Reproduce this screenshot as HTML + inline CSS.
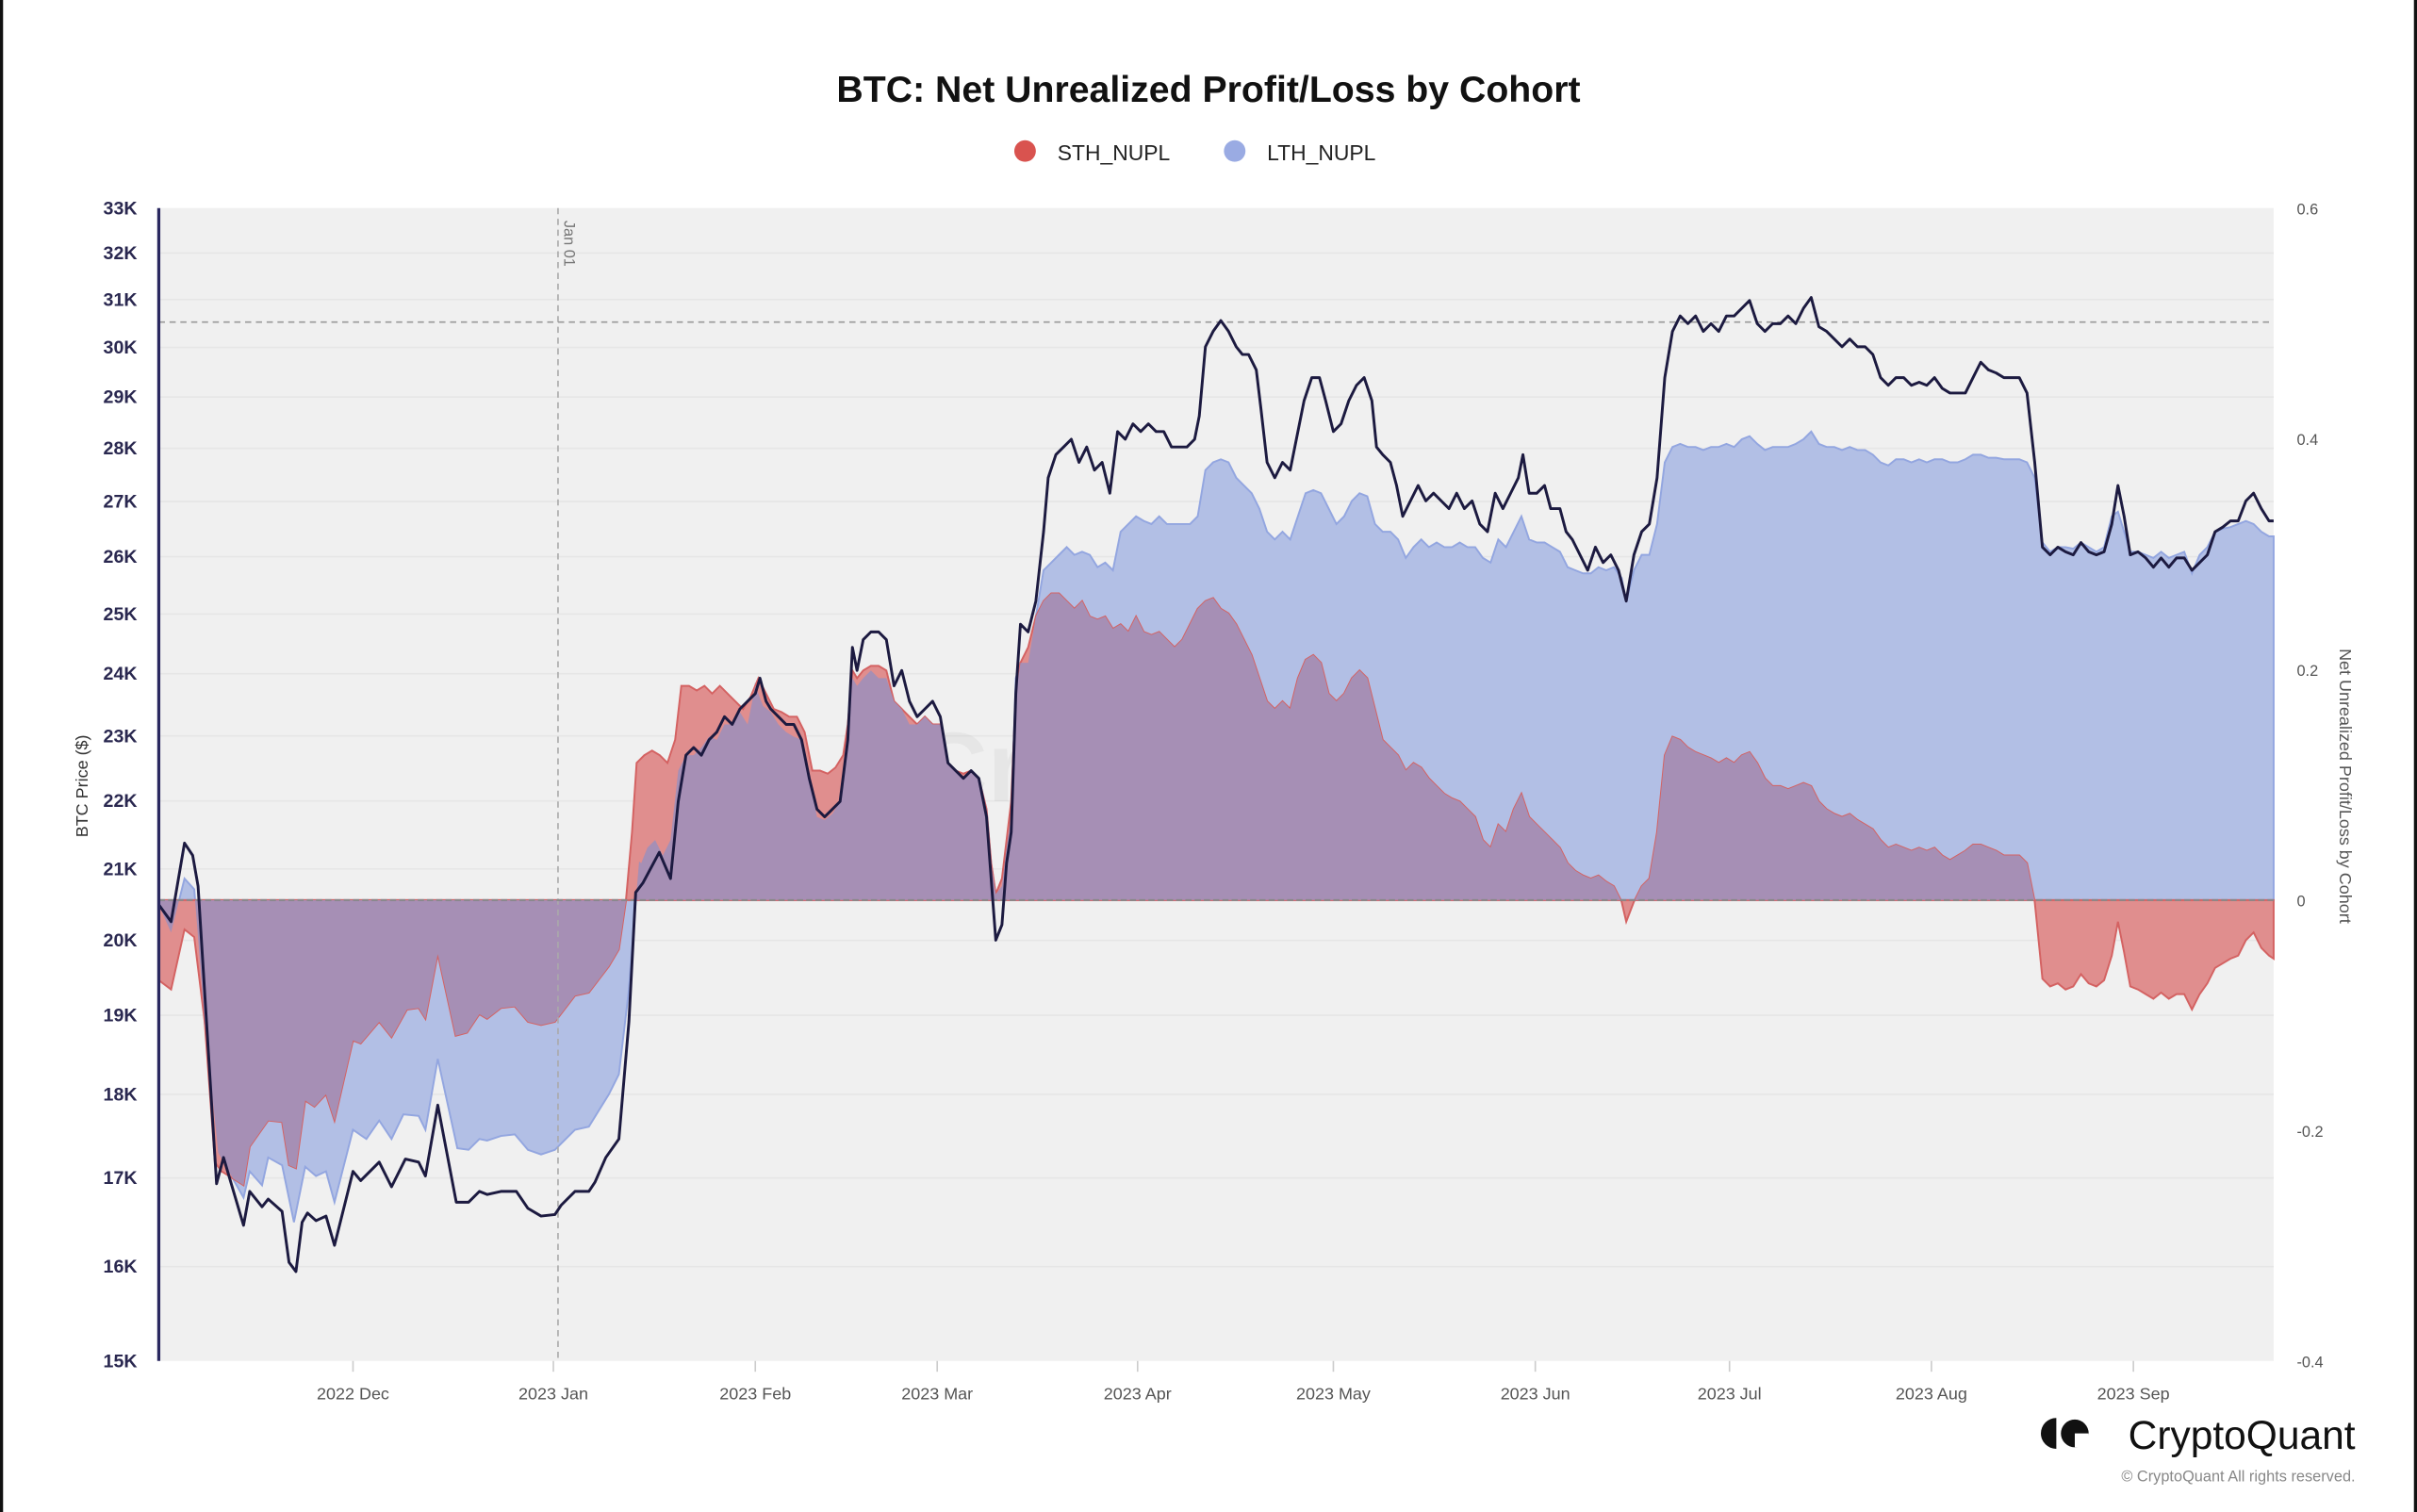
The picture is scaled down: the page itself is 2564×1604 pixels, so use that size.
<!DOCTYPE html>
<html><head><meta charset="utf-8">
<style>
html,body{margin:0;padding:0;background:#fff;}
body{width:2564px;height:1604px;overflow:hidden;position:relative;}
svg{position:absolute;left:0;top:0;}
text{font-family:"Liberation Sans",Arial,sans-serif;}
</style></head><body>
<svg id="s" width="2564" height="1604" viewBox="0 0 1568 981" preserveAspectRatio="none" xmlns="http://www.w3.org/2000/svg">
<rect x="0" y="0" width="1568" height="981" fill="#fff"/>
<rect x="0" y="0" width="2" height="981" fill="#111"/>
<rect x="1566" y="0" width="2" height="981" fill="#111"/>
<text x="784" y="66" text-anchor="middle" font-size="24" font-weight="bold" fill="#111">BTC: Net Unrealized Profit/Loss by Cohort</text>
<circle cx="665" cy="98" r="7" fill="#d9534f"/>
<text x="686" y="104" font-size="14" fill="#222">STH_NUPL</text>
<circle cx="801" cy="98" r="7" fill="#9aabe3"/>
<text x="822" y="104" font-size="14" fill="#222">LTH_NUPL</text>
<rect x="103" y="135" width="1372" height="748" fill="#f0f0f0"/>
<g id="grid" stroke="#e6e6e6" stroke-width="1"></g>
<g id="ylab" font-size="12" fill="#2a2850" text-anchor="end" font-weight="bold"></g>
<g id="rlab" font-size="10" fill="#555" text-anchor="start"></g>
<g id="xlab" font-size="11" fill="#555" text-anchor="middle"></g>
<text x="790" y="520" text-anchor="middle" font-size="64" fill="#000" fill-opacity="0.04" font-weight="bold">CryptoQuant</text>
<defs><clipPath id="cb"><path id="cbp"/></clipPath></defs>
<path id="blue" fill="#b2bfe5" stroke="#93a6e0" stroke-width="1.2"/>
<path id="red" fill="#e08e8e" stroke="#d46262" stroke-width="1.2"/>
<path id="purp" fill="#a68fb5" clip-path="url(#cb)"/>
<line x1="362" y1="135" x2="362" y2="883" stroke="#aaa" stroke-dasharray="4,3" stroke-width="1"/>
<text transform="translate(366,143) rotate(90)" font-size="10" fill="#777">Jan 01</text>
<line x1="103" y1="209" x2="1475" y2="209" stroke="#999" stroke-dasharray="4,3" stroke-width="1"/>
<line x1="103" y1="584" x2="1475" y2="584" stroke="#888" stroke-dasharray="4,2" stroke-width="1.2"/>
<polyline id="price" fill="none" stroke="#1c1a40" stroke-width="1.8" stroke-linejoin="round"/>
<line x1="103" y1="135" x2="103" y2="883" stroke="#2a2860" stroke-width="2"/>
<text transform="translate(57,510) rotate(-90)" font-size="11" fill="#333" text-anchor="middle">BTC Price ($)</text>
<text transform="translate(1518,510) rotate(90)" font-size="11" fill="#555" text-anchor="middle">Net Unrealized Profit/Loss by Cohort</text>
<g transform="translate(1324,918)">
<path d="M10,2 A10,10 0 0 0 10,22 Z" fill="#111"/>
<circle cx="22" cy="12" r="9" fill="#111"/>
<rect x="22" y="12" width="9" height="9" fill="#fff"/>
</g>
<text x="1528" y="940" text-anchor="end" font-size="26" fill="#111">CryptoQuant</text>
<text x="1528" y="961" text-anchor="end" font-size="10" fill="#888">© CryptoQuant All rights reserved.</text>
</svg>
<script>
var NS="http://www.w3.org/2000/svg";
function el(p,t,a,txt){var e=document.createElementNS(NS,t);for(var k in a)e.setAttribute(k,a[k]);if(txt)e.textContent=txt;document.getElementById(p).appendChild(e);}
function yP(v){return 135+Math.log(33/v)/Math.log(33/15)*748;}
for(var v=15;v<=33;v++){var y=yP(v);if(v<33&&v>15)el("grid","line",{x1:103,x2:1475,y1:y,y2:y});el("ylab","text",{x:89,y:y+4},v+"K");}
[0.6,0.4,0.2,0,-0.2,-0.4].forEach(function(r){var y=584-r*748;el("rlab","text",{x:1490,y:y+4},String(r));});
[[229,"2022 Dec"],[359,"2023 Jan"],[490,"2023 Feb"],[608,"2023 Mar"],[738,"2023 Apr"],[865,"2023 May"],[996,"2023 Jun"],[1122,"2023 Jul"],[1253,"2023 Aug"],[1384,"2023 Sep"]].forEach(function(d){el("xlab","text",{x:d[0],y:908},d[1]);el("grid","line",{x1:d[0],x2:d[0],y1:883,y2:890,stroke:"#ccc"});});
var price="103,587 111,598 119.7,547 125,555 128.5,575 140.5,768 145,751 158,795 162,773 170,783 174,778 183,786 187.5,819 192,825 196,793 199.5,787 205,792 211.5,789 217,808 229,760 234,766 246,754 254,770 263,752 271.6,754 276,763 284,717 296,780 304,780 311,773 316,775 325,773 335,773 342.5,784 351,789 360,788 364,782 373,773 382,773 386,767 393,751 401.5,739 408,663 412.4,579 417,573 427.7,553 435,570 440,520 445,490 450,485 455,490 460,480 465,475 470,465 475,470 480,460 485,455 490,450 493,440 497,455 500,460 505,465 510,470 515,470 520,480 525,505 530,525 535,530 540,525 545,520 550,480 553,420 556,435 560,415 565,410 570,410 575,415 580,445 585,435 590,455 595,465 600,460 605,455 610,465 615,495 620,500 625,505 630,500 635,505 640,530 643,570 646,610 650,600 653,560 656,540 659,450 662,405 667,410 672,390 677,345 680,310 685,295 690,290 695,285 700,300 705,290 710,305 715,300 720,320 725,280 730,285 735,275 740,280 745,275 750,280 755,280 760,290 765,290 770,290 775,285 778,270 782,225 787,215 792,208 797,215 802,225 806,230 810,230 815,240 818,265 822,300 827,310 832,300 837,305 842,280 846,260 851,245 856,245 860,260 865,280 870,275 875,260 880,250 885,245 890,260 893,290 897,295 902,300 906,315 910,335 915,325 920,315 925,325 930,320 935,325 940,330 945,320 950,330 955,325 960,340 965,345 970,320 975,330 980,320 985,310 988,295 992,320 997,320 1002,315 1006,330 1012,330 1016,345 1020,350 1025,360 1030,370 1035,355 1040,365 1045,360 1050,370 1055,390 1060,360 1065,345 1070,340 1075,310 1080,245 1085,215 1090,205 1095,210 1100,205 1105,215 1110,210 1115,215 1120,205 1125,205 1130,200 1135,195 1140,210 1145,215 1150,210 1155,210 1160,205 1165,210 1170,200 1175,193 1180,212 1185,215 1190,220 1195,225 1200,220 1205,225 1210,225 1215,230 1220,245 1225,250 1230,245 1235,245 1240,250 1245,248 1250,250 1255,245 1260,252 1265,255 1270,255 1275,255 1280,245 1285,235 1290,240 1295,242 1300,245 1305,245 1310,245 1315,255 1320,300 1325,355 1330,360 1335,355 1340,358 1345,360 1350,352 1355,358 1360,360 1365,358 1370,340 1374,315 1378,335 1382,360 1387,358 1392,362 1397,368 1402,362 1407,368 1412,362 1417,362 1422,370 1427,365 1432,360 1437,345 1442,342 1447,338 1452,338 1457,325 1462,320 1467,330 1472,338 1475,338";
var lth="103,587 111,605 119.7,570 126,577 132.8,663 141.6,748 158,777 162,760 170,769 174,751 183,756 190.7,793 198,757 205,763 211.5,760 217,780 229,733 237.7,739 246,727 254,739 261.7,723 271.6,724 276,733 284,687 296.7,745 304,746 311,739 316,740 325,737 334,736 342.5,746 351,749 360,746 373,733 382,731 395,710 401.5,697 408,642 412.4,585 414.6,559 416,560 420,550 425,545 430,555 435,545 440,500 445,490 450,490 455,485 460,478 465,480 470,470 475,470 480,462 485,470 490,445 495,458 500,462 505,470 510,475 515,478 520,480 525,505 530,530 535,532 540,528 545,520 550,480 553,440 556,445 560,440 565,435 570,440 575,440 580,455 585,460 590,470 595,470 600,465 605,470 610,470 615,495 620,500 625,505 630,500 635,505 640,525 643,560 646,580 650,575 653,550 656,530 659,440 662,430 667,430 672,400 677,370 682,365 687,360 692,355 697,360 702,358 707,360 712,368 717,365 722,370 727,345 732,340 737,335 742,338 747,340 752,335 757,340 762,340 767,340 772,340 777,335 782,305 787,300 792,298 797,300 802,310 807,315 812,320 817,330 822,345 827,350 832,345 837,350 842,335 847,320 852,318 857,320 862,330 867,340 872,335 877,325 882,320 887,322 892,340 897,345 902,345 907,350 912,362 917,355 922,350 927,355 932,352 937,355 942,355 947,352 952,355 957,355 962,362 967,365 972,350 977,355 982,345 987,335 992,350 997,352 1002,352 1007,355 1012,358 1017,368 1022,370 1027,372 1032,372 1037,368 1042,370 1047,368 1052,375 1055,390 1060,370 1065,360 1070,360 1075,340 1080,300 1085,290 1090,288 1095,290 1100,290 1105,292 1110,290 1115,290 1120,288 1125,290 1130,285 1135,283 1140,288 1145,292 1150,290 1155,290 1160,290 1165,288 1170,285 1175,280 1180,288 1185,290 1190,290 1195,292 1200,290 1205,292 1210,292 1215,295 1220,300 1225,302 1230,298 1235,298 1240,300 1245,298 1250,300 1255,298 1260,298 1265,300 1270,300 1275,298 1280,295 1285,295 1290,297 1295,297 1300,298 1305,298 1310,298 1315,300 1320,310 1325,352 1330,358 1335,355 1340,355 1345,356 1350,352 1355,355 1360,358 1365,355 1370,335 1374,332 1378,345 1382,358 1387,358 1392,360 1397,362 1402,358 1407,362 1412,360 1417,358 1422,372 1427,360 1432,355 1437,345 1442,343 1447,342 1452,340 1457,338 1462,340 1467,345 1472,348 1475,348";
var sth="103,636 111,642 119.7,603 126,608 132.8,663 139.4,754 143.8,760 158,769 162,744 174,727 183,728 187.5,756 192,758 198,714 204,718 211.5,710 217,727 229,675 234,677 246,663 254,673 264,655 271.6,654 276,661 284,619 295.6,672 303,670 311,658 316,661 325,654 334,653 342.5,663 351,665 360,663 373,646 382,644 395,627 401.5,616 406,585 410,540 413,495 418,490 423,487 428,490 433,495 438,480 442,445 447,445 452,448 457,445 462,450 467,445 472,450 477,455 482,460 487,452 492,440 497,450 502,460 507,462 512,465 517,465 522,475 527,500 532,500 537,502 542,498 547,490 550,470 553,435 556,440 560,435 565,432 570,432 575,435 580,455 585,460 590,465 595,470 600,465 605,470 610,470 615,495 620,500 625,502 630,500 635,505 640,525 643,560 646,580 650,570 653,545 656,520 659,450 662,430 667,420 672,400 677,390 682,385 687,385 692,390 697,395 702,390 707,400 712,402 717,400 722,408 727,405 732,410 737,400 742,410 747,412 752,410 757,415 762,420 767,415 772,405 777,395 782,390 787,388 792,395 797,398 802,405 807,415 812,425 817,440 822,455 827,460 832,455 837,460 842,440 847,428 852,425 857,430 862,450 867,455 872,450 877,440 882,435 887,440 892,460 897,480 902,485 907,490 912,500 917,495 922,498 927,505 932,510 937,515 942,518 947,520 952,525 957,530 962,545 967,550 972,535 977,540 982,525 987,515 992,530 997,535 1002,540 1007,545 1012,550 1017,560 1022,565 1027,568 1032,570 1037,568 1042,572 1047,575 1052,585 1055,598 1060,585 1065,575 1070,570 1075,540 1080,490 1085,478 1090,480 1095,485 1100,488 1105,490 1110,492 1115,495 1120,492 1125,495 1130,490 1135,488 1140,495 1145,505 1150,510 1155,510 1160,512 1165,510 1170,508 1175,510 1180,520 1185,525 1190,528 1195,530 1200,528 1205,532 1210,535 1215,538 1220,545 1225,550 1230,548 1235,550 1240,552 1245,550 1250,552 1255,550 1260,555 1265,558 1270,555 1275,552 1280,548 1285,548 1290,550 1295,552 1300,555 1305,555 1310,555 1315,560 1320,585 1325,635 1330,640 1335,638 1340,642 1345,640 1350,632 1355,638 1360,640 1365,636 1370,620 1374,598 1378,618 1382,640 1387,642 1392,645 1397,648 1402,644 1407,648 1412,645 1417,645 1422,655 1427,645 1432,638 1437,628 1442,625 1447,622 1452,620 1457,610 1462,605 1467,615 1472,620 1475,622";
function area(p){return "M103,584 L"+p.split(" ").join(" L")+" L1475,584 Z";}
document.getElementById("blue").setAttribute("d",area(lth));
document.getElementById("cbp").setAttribute("d",area(lth));
document.getElementById("red").setAttribute("d",area(sth));
document.getElementById("purp").setAttribute("d",area(sth));
document.getElementById("price").setAttribute("points",price);
</script>
</body></html>
